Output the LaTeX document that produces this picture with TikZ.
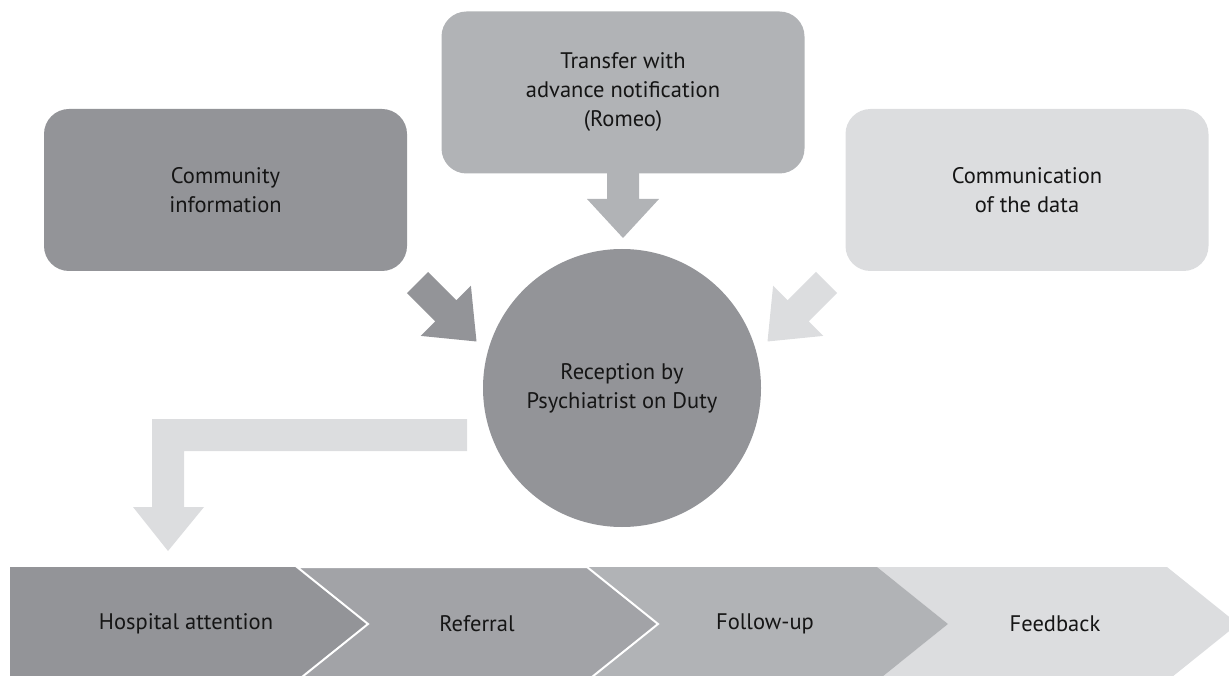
\documentclass[tikz,border=0pt]{standalone}
\usepackage{fontspec}
\setmainfont{PT Sans}
\definecolor{cDark}{HTML}{939498}
\definecolor{cMid}{HTML}{A2A3A7}
\definecolor{cGray}{HTML}{B1B3B6}
\definecolor{cLight}{HTML}{DCDDDF}
\definecolor{txt}{HTML}{151515}
\begin{document}
\begin{tikzpicture}[x=1pt,y=-1pt,
  lbl/.style={font=\fontsize{22.5}{29}\selectfont, align=center, text=txt},
  rbox/.style={rounded corners=25pt, draw=none, minimum width=363pt, minimum height=162pt, lbl},
]
\useasboundingbox (0,0) rectangle (1229,676);
\clip (0,0) rectangle (1229,676);

% top boxes
\node[rbox, fill=cDark] (comm) at (225.5,190) {Community\\information};
\node[rbox, fill=cGray] (trans) at (623,92.5) {Transfer with\\advance notification\\(Romeo)};
\node[rbox, fill=cLight] (data) at (1027,190) {Communication\\of the data};

% central circle
\node[circle, fill=cDark, minimum size=278pt, lbl] (rec) at (622,388) {Reception by\\Psychiatrist on Duty};

% down arrow from transfer box
\fill[cGray] (607,172) -- (639,172) -- (639,199) -- (659,199) -- (623,238)
  -- (587,199) -- (607,199) -- cycle;

% left diagonal arrow
\fill[cDark] (428.1,271.9) -- (456.4,300.2) -- (470.9,285.7) -- (476.5,341.5)
  -- (420.7,335.9) -- (435.2,321.4) -- (406.9,293.1) -- cycle;

% right diagonal arrow (mirror)
\fill[cLight] (815.9,271.9) -- (787.6,300.2) -- (773.1,285.7) -- (767.5,341.5)
  -- (823.3,335.9) -- (808.8,321.4) -- (837.1,293.1) -- cycle;

% bent arrow
\fill[cLight] (467,419) -- (152,419) -- (152,507) -- (133,507) -- (168,551)
  -- (204,507) -- (184,507) -- (184,451) -- (467,451) -- cycle;

% chevrons
\fill[cLight] (877,567) -- (1167,567) -- (1238,624) -- (1167,681) -- (877,681) -- (948,624) -- cycle;
\fill[cGray] (587,567) -- (877,567) -- (948,624) -- (877,681) -- (587,681) -- (658,624) -- cycle;
\fill[cDark] (10,567) -- (297,567) -- (368,624) -- (297,681) -- (10,681) -- cycle;
\filldraw[fill=cMid, draw=white, line width=2pt, line join=miter]
  (297,567) -- (587,567) -- (658,624) -- (587,681) -- (297,681) -- (368,624) -- cycle;

\node[lbl] (hosp) at (186,624) {Hospital attention};
\node[lbl] (ref) at (477,624) {Referral};
\node[lbl] (fol) at (765,624) {Follow-up};
\node[lbl] (feed) at (1055,624) {Feedback};
\end{tikzpicture}
\end{document}
